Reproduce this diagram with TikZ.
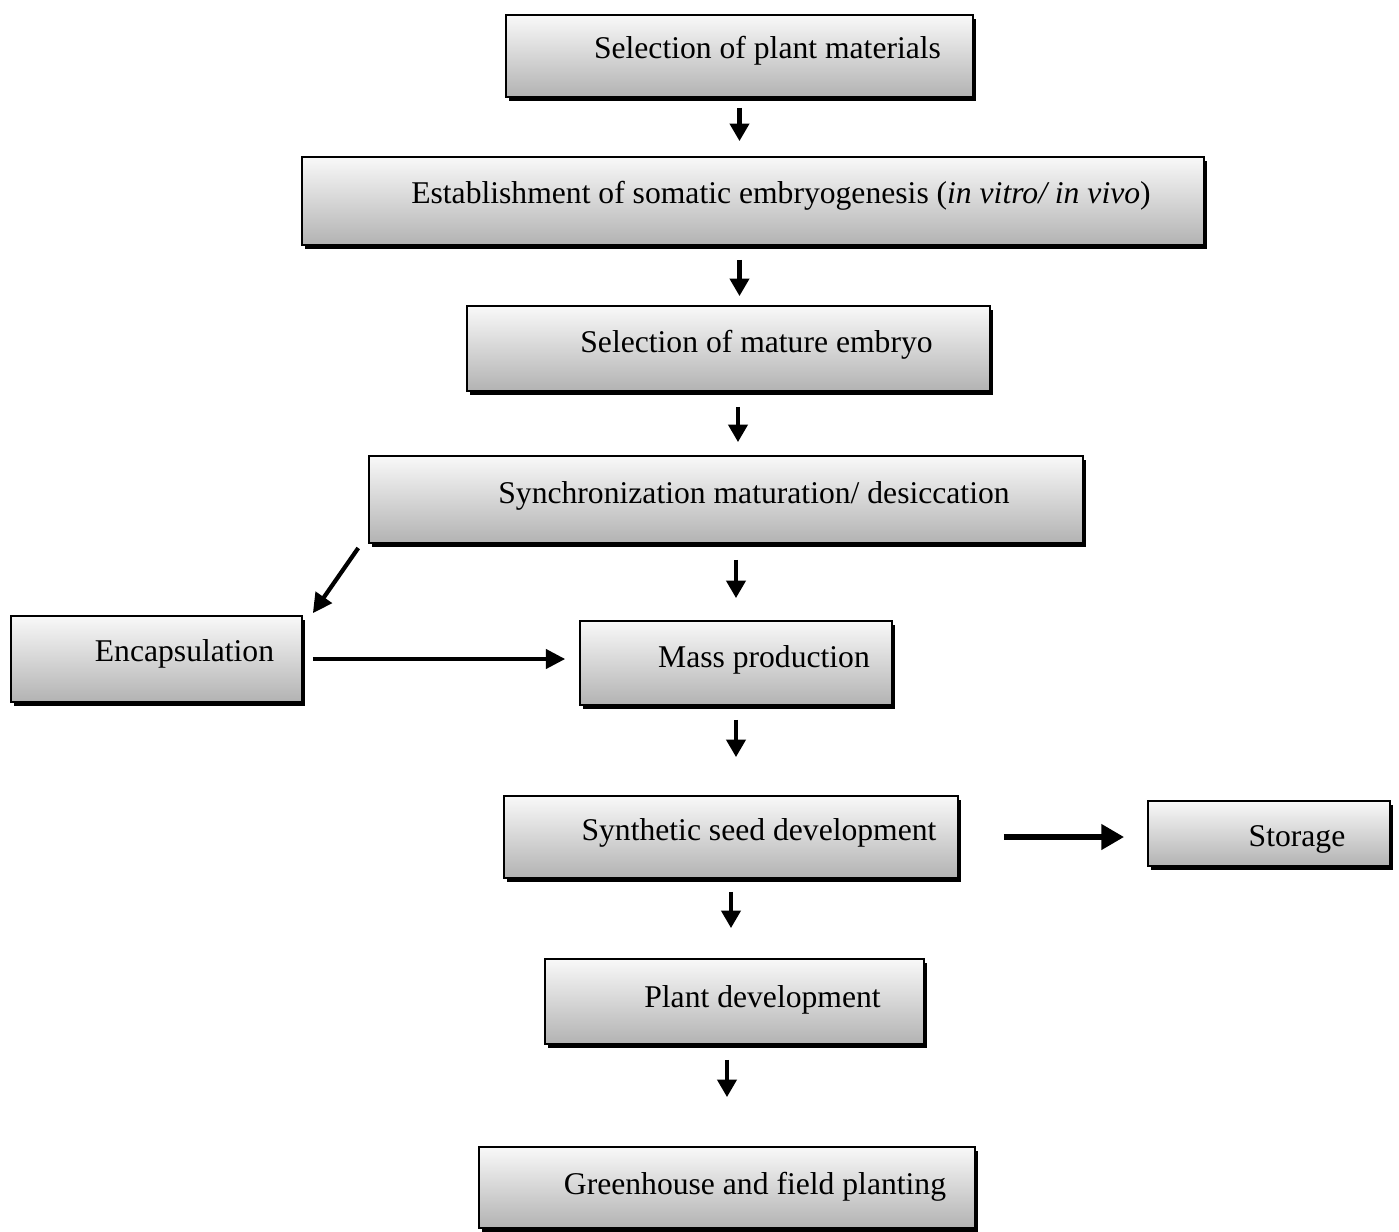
\documentclass[tikz,border=0pt]{standalone}
\usepackage{fontspec}
\setmainfont{Liberation Serif}
\usetikzlibrary{arrows.meta,shadows}

\begin{document}
\begin{tikzpicture}
    \useasboundingbox (0,0) rectangle (13.99,-12.32);
    \fill[white] (0,0) rectangle (13.99,-12.32);

    \tikzset{StageStyle/.style={draw=black, line width=0.5pt,
        top color=gray!5, bottom color=gray!60,
        drop shadow={shadow xshift=0.8pt, shadow yshift=-1pt, fill=black, opacity=1},
        inner sep=0pt, text height=4.6mm, text depth=3.9mm, anchor=base,
        font=\fontsize{9}{11}\selectfont,
        execute at begin node=\hspace*{5.6mm}}}
    \tikzset{FlowStyle/.style={line width=1.2pt, -{Triangle[length=5pt, width=5.4pt]}}}

    \node[StageStyle, minimum width=4.67cm, text height=4.3mm] (sel) at (7.395,-0.58) {Selection of plant materials};
    \node[StageStyle, minimum width=9.02cm, text depth=4.2mm] (est) at (7.53,-2.03)
        {Establishment of somatic embryogenesis (\textit{in vitro/ in vivo})};
    \node[StageStyle, minimum width=5.23cm] (mat) at (7.285,-3.52) {Selection of mature embryo};
    \node[StageStyle, minimum width=7.14cm, text height=4.7mm, text depth=4.0mm] (syn) at (7.26,-5.03)
        {Synchronization maturation/ desiccation};
    \node[StageStyle, minimum width=2.91cm, text height=4.5mm, text depth=4.1mm] (enc) at (1.565,-6.61) {Encapsulation};
    \node[StageStyle, minimum width=3.12cm, text depth=3.8mm] (mass) at (7.36,-6.67) {Mass production};
    \node[StageStyle, minimum width=4.54cm, text height=4.4mm, text depth=3.8mm] (sds) at (7.31,-8.40) {Synthetic seed development};
    \node[StageStyle, minimum width=2.42cm, text height=4.5mm, text depth=2.0mm] (sto) at (12.69,-8.46) {Storage};
    \node[StageStyle, minimum width=3.79cm, text height=4.8mm, text depth=3.7mm] (pla) at (7.345,-10.07) {Plant development};
    \node[StageStyle, minimum width=4.96cm, text height=4.7mm, text depth=3.4mm] (gre) at (7.27,-11.94) {Greenhouse and field planting};

    % main line
    \draw[FlowStyle, shorten <=1mm, shorten >=1.5mm] (sel.south) -- (sel.south |- est.north);
    \draw[FlowStyle, shorten <=1.4mm, shorten >=0.9mm] ([xshift=1.1mm]mat.north |- est.south) -- ([xshift=1.1mm]mat.north);
    \draw[FlowStyle, shorten <=1.5mm, shorten >=1.3mm] ([xshift=0.95mm]mat.south) -- ([xshift=0.95mm]mat.south |- syn.north);
    \draw[FlowStyle, shorten <=1.6mm, shorten >=2.2mm] (mass.north |- syn.south) -- (mass.north);
    \draw[FlowStyle, shorten <=1.4mm, shorten >=3.8mm] (mass.south) -- (mass.south |- sds.north);
    \draw[FlowStyle, shorten <=1.3mm, shorten >=3.0mm] (sds.south) -- (sds.south |- pla.north);
    \draw[FlowStyle, shorten <=1.5mm, shorten >=4.9mm] (gre.north |- pla.south) -- (gre.north);

    % side branches
    \draw[FlowStyle, shorten <=0.5mm, -{Triangle[length=5.5pt, width=5.5pt]}]
        ([xshift=-0.7mm]syn.south west) -- ([xshift=1mm, yshift=0.2mm]enc.north east);
    \draw[FlowStyle, line width=1pt, shorten <=1mm, shorten >=1.4mm, -{Triangle[length=5.5pt, width=5.5pt]}]
        (enc.east) -- (enc.east -| mass.west);
    \draw[FlowStyle, line width=1.6pt, shorten <=4.5mm, shorten >=2.3mm, -{Triangle[length=6.5pt, width=7pt]}]
        (sds.east) -- (sds.east -| sto.west);
\end{tikzpicture}
\end{document}
